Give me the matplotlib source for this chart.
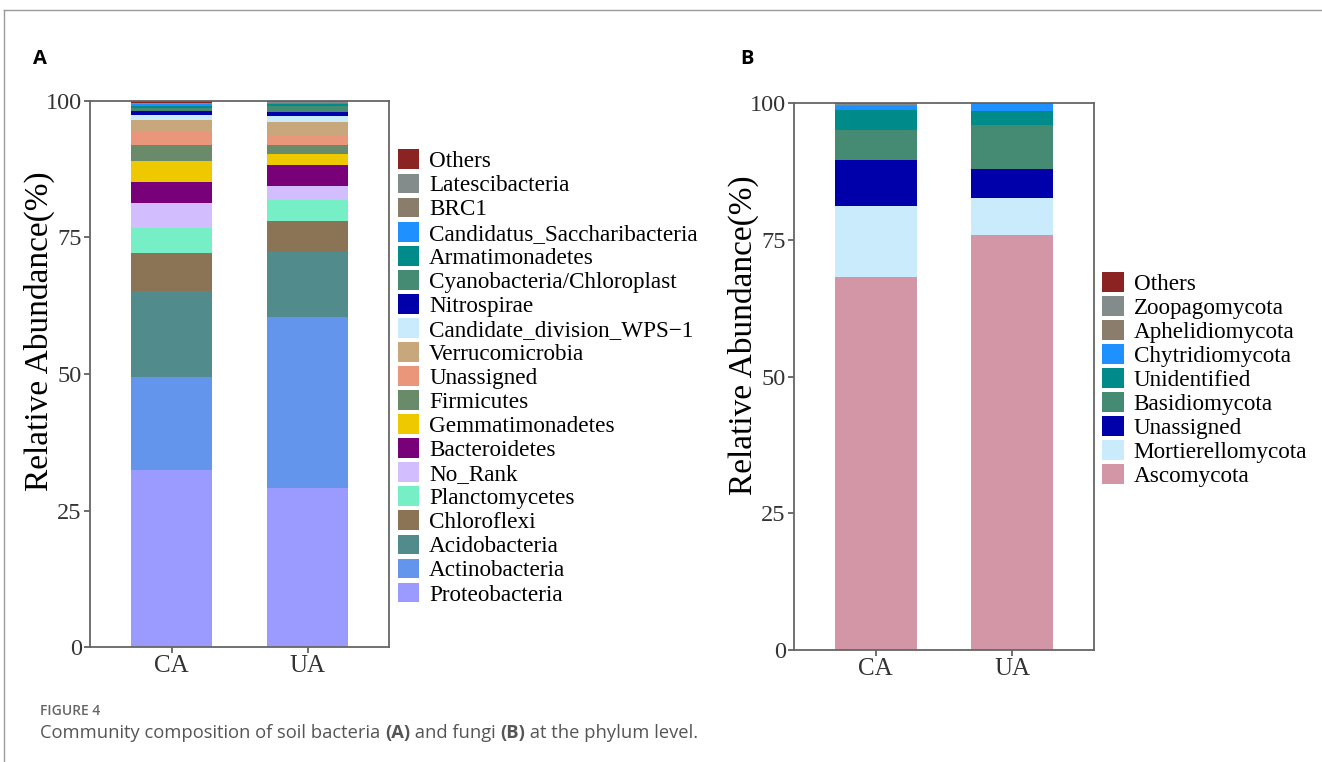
import numpy as np
import matplotlib
matplotlib.use('Agg')
from matplotlib import pyplot as plt
from matplotlib.patches import Patch
from matplotlib.lines import Line2D

# ---- data ----
groups = ['CA', 'UA']

bac_names = ['Proteobacteria', 'Actinobacteria', 'Acidobacteria', 'Chloroflexi',
             'Planctomycetes', 'No_Rank', 'Bacteroidetes', 'Gemmatimonadetes',
             'Firmicutes', 'Unassigned', 'Verrucomicrobia',
             'Candidate_division_WPS\u22121', 'Nitrospirae',
             'Cyanobacteria/Chloroplast', 'Armatimonadetes',
             'Candidatus_Saccharibacteria', 'BRC1', 'Latescibacteria', 'Others']
bac_ca = [32.5, 17.0, 15.7, 7.0, 4.6, 4.6, 3.7, 3.85, 2.9, 2.6, 2.1, 0.85, 0.8,
          0.5, 0.35, 0.35, 0.1, 0.1, 0.4]
bac_ua = [29.2, 31.2, 12.0, 5.6, 3.9, 2.6, 3.7, 2.1, 1.7, 1.8, 2.3, 1.1, 0.8,
          1.0, 0.5, 0.15, 0.05, 0.1, 0.2]
bac_colors = ['#9A9AFF', '#6495ED', '#528B8B', '#8B7355', '#76EEC6', '#D2BEFF',
              '#780078', '#EEC900', '#698B69', '#E9967A', '#C9A77C', '#CAEBFC',
              '#0000AA', '#458B74', '#008B8B', '#1E90FF', '#8B7D6B', '#838B8B',
              '#8B2323']

fun_names = ['Ascomycota', 'Mortierellomycota', 'Unassigned', 'Basidiomycota',
             'Unidentified', 'Chytridiomycota', 'Aphelidiomycota',
             'Zoopagomycota', 'Others']
fun_ca = [68.2, 12.9, 8.5, 5.5, 3.7, 0.6, 0.3, 0.1, 0.2]
fun_ua = [75.9, 6.8, 5.2, 8.1, 2.6, 1.2, 0.0, 0.0, 0.2]
fun_colors = ['#D296A6', '#CAEBFC', '#0000AA', '#458B74', '#008B8B', '#1E90FF',
              '#8B7D6B', '#838B8B', '#8B2323']

SERIF = 'Liberation Serif'
SANS = 'Open Sans'


def stacked(ax, names, ca, ua, colors, leg_x, leg_y, lab_y, frame):
    x = np.arange(len(groups))
    vals = np.array([ca, ua]).T
    bottom = np.zeros(len(groups))
    for name, v, c in zip(names, vals, colors):
        ax.bar(x, v, width=0.6, bottom=bottom, color=c, linewidth=0)
        bottom += v

    ax.set_xlim(-0.6, 1.6)
    ax.set_ylim(0, 100)
    ax.set_xticks(x)
    ax.set_xticklabels(groups, fontsize=18, family=SERIF, color='#333333')
    ax.set_yticks([0, 25, 50, 75, 100])
    ax.set_yticklabels(['0', '25', '50', '75', '100'], fontsize=17.5,
                       family=SERIF, color='#333333')
    ax.tick_params(direction='out', length=4, width=1.2, color='#555555', pad=2)
    for s in ax.spines.values():
        s.set_color('#666666')
        s.set_linewidth(1.3)
    ax.set_ylabel('Relative Abundance(%)', fontsize=24, family=SERIF)
    ax.yaxis.set_label_coords(-0.117, lab_y)

    handles = [Patch(facecolor=c, edgecolor='none') for c in colors][::-1]
    leg = ax.legend(handles, names[::-1], loc='center left',
                    bbox_to_anchor=(leg_x, leg_y), bbox_transform=fig.transFigure,
                    prop={'family': SERIF, 'size': 16.7}, handlelength=0.94,
                    handleheight=0.94, handletextpad=0.42, labelspacing=0.05,
                    borderpad=0.3, borderaxespad=0, frameon=frame, fancybox=False)
    if frame:
        leg.get_frame().set_edgecolor('none')
        leg.get_frame().set_facecolor('white')
        leg.get_frame().set_alpha(1)
    return ax


fig = plt.figure(figsize=(13.22, 7.62), dpi=100)

axA = fig.add_axes([0.0681, 0.1509, 0.2262, 0.7166])
axB = fig.add_axes([0.6006, 0.1470, 0.2269, 0.7178])

stacked(axA, bac_names, bac_ca, bac_ua, bac_colors, 0.2955, 0.5046, 0.579, False)
stacked(axB, fun_names, fun_ca, fun_ua, fun_colors, 0.8285, 0.502, 0.576, True)

# panel letters
fig.text(33 / 1322, 1 - 59 / 762, 'A', fontsize=14.5, fontweight='bold',
         family=SANS, va='center', ha='left')
fig.text(740 / 1322, 1 - 59 / 762, 'B', fontsize=14.5, fontweight='bold',
         family=SANS, va='center', ha='left')

# card border
fig.add_artist(Line2D([4 / 1322, 1], [1 - 10 / 762, 1 - 10 / 762],
                      transform=fig.transFigure, color='#9a9a9a', lw=1))
fig.add_artist(Line2D([4 / 1322, 4 / 1322], [0, 1 - 10 / 762],
                      transform=fig.transFigure, color='#9a9a9a', lw=1))

# caption
fig.text(40 / 1322, 1 - 711 / 762, 'FIGURE 4', fontsize=10, fontweight='semibold',
         family=SANS, color='#666666', va='center', ha='left')

pieces = [('Community composition of soil bacteria ', 'normal'), ('(A)', 'bold'),
          (' and fungi ', 'normal'), ('(B)', 'bold'),
          (' at the phylum level.', 'normal')]
fig.canvas.draw()
renderer = fig.canvas.get_renderer()
xpos = 40
for txt, w in pieces:
    t = fig.text(xpos / 1322, 1 - 733 / 762, txt, fontsize=13.2, fontweight=w,
                 family=SANS, color='#555555', va='center', ha='left')
    bb = t.get_window_extent(renderer)
    xpos += bb.width

fig.savefig('out.png', dpi=100)
